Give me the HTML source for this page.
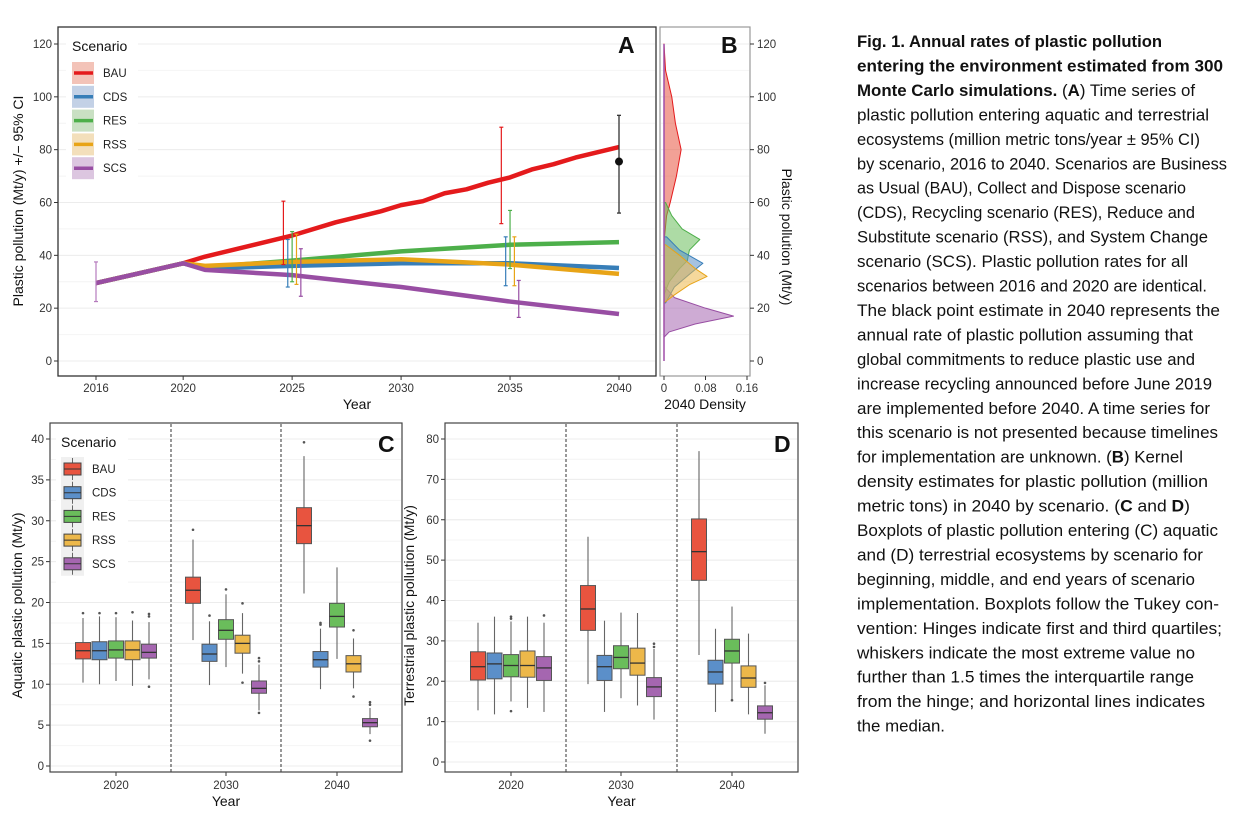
<!DOCTYPE html>
<html><head><meta charset="utf-8">
<style>
html,body{margin:0;padding:0;background:#fff;}
svg{display:block;font-family:"Liberation Sans",sans-serif;}
.tk{font-size:11.5px;fill:#333;}
.at{font-size:14px;fill:#111;}
.pl{font-family:"Liberation Sans Narrow","Liberation Sans",sans-serif;font-weight:bold;font-size:23px;fill:#111;}
.cap{font-family:"Liberation Sans Narrow","Liberation Sans",sans-serif;font-size:16.5px;fill:#111;}
</style></head>
<body>
<svg id="fig" width="1233" height="813" viewBox="0 0 1233 813" xmlns="http://www.w3.org/2000/svg">
<g id="gA"></g>
<g id="gB"></g>
<g id="gC"></g>
<g id="gD"></g>
<g id="cap"></g>
</svg>
<script>
const NS="http://www.w3.org/2000/svg";
const scenarios=["BAU","CDS","RES","RSS","SCS"];
const lineColors=["#e41a1c","#377eb8","#4daf4a","#e8a417","#984ea3"];
const paleColors=["#f3c3b8","#c3d1e6","#c9e0c3","#f3dfbb","#dcc6e0"];
const boxColors=["#e8543f","#5b8fc9","#6abd5b","#edb84a","#a566b0"];
// Panel A data
const yearsA=[2016,2020,2021,2025,2030,2035,2040];
const bauA=[29.5,37,39.5,47.5,59,69.5,81];
const bauYearsExtra=[2027,2029,2031,2032,2033,2034,2036,2037,2038,2039];
const bauExtra=[52.5,56.5,60.5,63.5,65,67.5,72.5,74.5,77,79];
const cdsA=[29.5,37,35,36,37,37,35.2];
const resA=[29.5,37,35.5,38,41.5,44,45];
const rssA=[29.5,37,36,37.5,38.5,36.5,33];
const scsA=[29.5,37,34.5,32.5,28,22.5,17.8];
const ci2025Lo=[36.5,28,30,29,24.5];
const ci2025Hi=[60.5,46,49,48,42.5];
const ci2035Lo=[52,28.5,35,28.5,16.5];
const ci2035Hi=[88.5,47,57,47,30.5];
const ci2016=[22.5,37.5];
const commit2040=[56,75.5,93];
const yTicksA=[0,20,40,60,80,100,120];
const xTicksA=[2016,2020,2025,2030,2035,2040];
// Panel B densities (order: BAU, CDS, RES, RSS, SCS)
const densY=[[45,55,60,70,80,90,100,110,120],[22,28,33,37,42,47],[25,30,35,38,42,46,50,55,60],[22,25,29,32,35,40,44],[9,11,14,17,20,24,28]];
const densV=[[0,0.005,0.012,0.024,0.033,0.022,0.015,0.003,0],[0.003,0.02,0.05,0.075,0.03,0.005],[0,0.01,0.03,0.045,0.049,0.069,0.035,0.015,0.003],[0,0.02,0.05,0.083,0.06,0.03,0.003],[0,0.01,0.06,0.134,0.08,0.02,0.002]];
const densTicks=[0,0.08,0.16];
// Panel C (aquatic) stats [q1,med,q3,lo,hi]
const yearsBox=["2020","2030","2040"];
const aqStats=[
 [[13.1,14.1,15.1,10.2,18.1],[13.0,14.1,15.2,10,18.3],[13.2,14.2,15.3,10.4,18.2],[13.0,14.2,15.3,9.8,17.8],[13.2,13.9,14.9,10.6,17.6]],
 [[19.9,21.5,23.1,15.4,27.7],[12.8,13.7,14.9,9.9,17.7],[15.5,16.6,17.9,12.1,21],[13.8,15,16,11.3,18.7],[8.9,9.5,10.4,6.8,12.4]],
 [[27.2,29.4,31.6,21.1,37.9],[12.1,13,14,9.4,16.8],[17,18.3,19.9,13.1,24.3],[11.5,12.5,13.5,9.5,15.6],[4.8,5.3,5.8,3.9,7.1]]];
const aqOut=[[[18.7],[18.7],[18.7],[18.8],[18.3,18.6,9.7]],[[28.9],[18.4],[21.6],[19.9,10.2],[12.8,13.2,6.5]],[[39.6],[17.3,17.5],[],[16.6,8.5],[7.5,7.8,3.1]]];
const terStats=[
 [[20.3,23.6,27.3,12.8,34.5],[20.6,24.3,27,11.8,36],[21.1,23.9,26.6,15,34.8],[21,23.9,27.5,13.4,36],[20.2,23.3,26.1,12.4,34.5]],
 [[32.6,37.9,43.7,19.3,55.8],[20.2,23.6,26.4,12.4,35],[23.1,25.9,28.8,15.8,37],[21.5,24.5,28.2,14,36.9],[16.2,18.6,20.9,10.5,28]],
 [[45,52.1,60.2,26.5,77],[19.3,22.3,25.2,12.4,33],[24.5,27.5,30.4,15.5,38.5],[18.5,20.8,23.8,11.8,31.8],[10.6,12.2,13.9,7,19]]];
const terOut=[[[],[],[36,35.5,12.6],[],[36.3]],[[],[],[],[],[28.5,29.3]],[[],[],[15.3],[],[19.6]]];
const yTicksC=[0,5,10,15,20,25,30,35,40];
const yTicksD=[0,10,20,30,40,50,60,70,80];

function el(parent,tag,attrs,text){const e=document.createElementNS(NS,tag);for(const k in attrs)e.setAttribute(k,attrs[k]);if(text!==undefined)e.textContent=text;parent.appendChild(e);return e;}

// ---------- Panel A ----------
const gA=document.getElementById('gA');
const ax=y=>96+(y-2016)*(619-96)/24;
const ay=v=>361-v*317/120;
for(let v=10;v<=120;v+=10){const ln=el(gA,'line',{x1:59,x2:655,y1:ay(v),y2:ay(v),stroke:v%20?'#f4f4f4':'#ececec','stroke-width':1});
}
el(gA,'line',{x1:59,x2:655,y1:ay(0),y2:ay(0),stroke:'#ececec'});
yTicksA.forEach(v=>{el(gA,'line',{x1:54,x2:58,y1:ay(v),y2:ay(v),stroke:'#333'});
 const t=el(gA,'text',{x:52,y:ay(v)+4,'text-anchor':'end',class:'tk'},v);
 });
xTicksA.forEach(v=>{el(gA,'line',{x1:ax(v),x2:ax(v),y1:376,y2:380,stroke:'#333'});
 const t=el(gA,'text',{x:ax(v),y:392,'text-anchor':'middle',class:'tk'},v);
 });
const bauPts=yearsA.map((y,i)=>[y,bauA[i]]).concat(bauYearsExtra.map((y,i)=>[y,bauExtra[i]])).sort((a,b)=>a[0]-b[0]);
const series=[bauPts,yearsA.map((y,i)=>[y,cdsA[i]]),yearsA.map((y,i)=>[y,resA[i]]),yearsA.map((y,i)=>[y,rssA[i]]),yearsA.map((y,i)=>[y,scsA[i]])];
const order=[0,2,1,3,4];
order.forEach(si=>{const p=el(gA,'polyline',{points:series[si].map(d=>ax(d[0])+','+ay(d[1])).join(' '),fill:'none',stroke:lineColors[si],'stroke-width':4.5,'stroke-linejoin':'round'});
 });
function ebar(x,lo,hi,c,w){const g=el(gA,'g',{stroke:c,'stroke-width':w||1.2});
 el(g,'line',{x1:x,x2:x,y1:ay(lo),y2:ay(hi)});el(g,'line',{x1:x-2,x2:x+2,y1:ay(lo),y2:ay(lo)});el(g,'line',{x1:x-2,x2:x+2,y1:ay(hi),y2:ay(hi)});return g;}
let g0=ebar(ax(2016),ci2016[0],ci2016[1],'#b57bbd');
scenarios.forEach((s,i)=>{const off=(i-2)*0.2;
 let g=ebar(ax(2025+off),ci2025Lo[i],ci2025Hi[i],lineColors[i]);
 g=ebar(ax(2035+off),ci2035Lo[i],ci2035Hi[i],lineColors[i]);});
let gc=ebar(ax(2040),commit2040[0],commit2040[2],'#333',1.3);
const cp=el(gA,'circle',{cx:ax(2040),cy:ay(commit2040[1]),r:4,fill:'#111'});
el(gA,'rect',{x:58,y:27,width:598,height:349,fill:'none',stroke:'#333','stroke-width':1.3});
el(gA,'rect',{x:66,y:32,width:72,height:152,fill:'#fff'});
const lt=el(gA,'text',{x:72,y:51,style:'font-size:14px;fill:#111'},'Scenario');
scenarios.forEach((s,i)=>{const y=73+i*23.8;const g=el(gA,'g',{});
 
 el(g,'rect',{x:72,y:y-11,width:22,height:22,fill:paleColors[i]});
 el(g,'line',{x1:74,x2:93,y1:y,y2:y,stroke:lineColors[i],'stroke-width':3.5});
 el(g,'text',{x:103,y:y+4,style:'font-size:11.5px;fill:#222'},s);});
const plA=el(gA,'text',{x:618,y:53,class:'pl'},'A');
let t=el(gA,'text',{x:357,y:409,'text-anchor':'middle',class:'at'},'Year');
t=el(gA,'text',{x:0,y:0,transform:'translate(23,201) rotate(-90)','text-anchor':'middle',class:'at'},'Plastic pollution (Mt/y) +/\u2212 95% CI');

// ---------- Panel B ----------
const gB=document.getElementById('gB');
const bx=d=>664+d*(747-664)/0.16;
for(let v=10;v<=120;v+=10){el(gB,'line',{x1:661,x2:749,y1:ay(v),y2:ay(v),stroke:v%20?'#f4f4f4':'#ececec'});}
[4,0,2,1,3].forEach(si=>{
 const ys=densY[si],vs=densV[si];
 let d='M'+bx(0)+','+ay(ys[0]);
 ys.forEach((y,k)=>{d+=' L'+bx(vs[k])+','+ay(y);});
 d+=' L'+bx(0)+','+ay(ys[ys.length-1])+' Z';
 const p=el(gB,'path',{d:d,fill:boxColors[si],'fill-opacity':0.55,stroke:lineColors[si],'stroke-width':1,'stroke-linejoin':'round'});
 });
el(gB,'line',{x1:bx(0),x2:bx(0),y1:ay(0),y2:ay(120),stroke:'#a04fa8','stroke-width':1.5});
el(gB,'rect',{x:660,y:27,width:90,height:349,fill:'none',stroke:'#999','stroke-width':1.2});
densTicks.forEach(v=>{el(gB,'line',{x1:bx(v),x2:bx(v),y1:376,y2:380,stroke:'#333'});
 const tt=el(gB,'text',{x:bx(v),y:392,'text-anchor':'middle',class:'tk'},v);});
yTicksA.forEach(v=>{el(gB,'line',{x1:750,x2:754,y1:ay(v),y2:ay(v),stroke:'#333'});
 const tt=el(gB,'text',{x:757,y:ay(v)+4,class:'tk'},v);});
t=el(gB,'text',{x:0,y:0,transform:'translate(782,237) rotate(90)','text-anchor':'middle',class:'at'},'Plastic pollution (Mt/y)');
t=el(gB,'text',{x:705,y:409,'text-anchor':'middle',class:'at'},'2040 Density');
t=el(gB,'text',{x:721,y:53,class:'pl'},'B');

// ---------- Box panels ----------
function boxPanel(g,L,R,yTop,yBot,vmax,ticks,stats,outs,centers,dashes,label,ytitle,yTitleX,minorStep,legend){
 const sy=v=>yBot-(v/vmax)*(yBot-yTop);
 for(let v=minorStep;v<=vmax+minorStep*0.6;v+=minorStep){el(g,'line',{x1:L+1,x2:R-1,y1:sy(v),y2:sy(v),stroke:'#f4f4f4'});}
 ticks.forEach(v=>{el(g,'line',{x1:L+1,x2:R-1,y1:sy(v),y2:sy(v),stroke:'#ececec'});
  el(g,'line',{x1:L-4,x2:L,y1:sy(v),y2:sy(v),stroke:'#333'});
  const tt=el(g,'text',{x:L-6,y:sy(v)+4,'text-anchor':'end',class:'tk'},v);});
 dashes.forEach(x=>el(g,'line',{x1:x,x2:x,y1:424,y2:772,stroke:'#333','stroke-dasharray':'3,2','stroke-width':1}));
 yearsBox.forEach((yr,gi)=>{const c=centers[gi];
  el(g,'line',{x1:c,x2:c,y1:772,y2:776,stroke:'#333'});
  const tt=el(g,'text',{x:c,y:789,'text-anchor':'middle',class:'tk'},yr);
  scenarios.forEach((s,si)=>{const st=stats[gi][si];const x=c+(si-2)*16.5;const bg=el(g,'g',{});
   
   el(bg,'line',{x1:x,x2:x,y1:sy(st[3]),y2:sy(st[4]),stroke:'#666','stroke-width':1.1});
   el(bg,'rect',{x:x-7.5,y:sy(st[2]),width:15,height:sy(st[0])-sy(st[2]),fill:boxColors[si],stroke:'#555','stroke-width':1});
   el(bg,'line',{x1:x-7.5,x2:x+7.5,y1:sy(st[1]),y2:sy(st[1]),stroke:'#333','stroke-width':1.3});
   outs[gi][si].forEach(o=>el(bg,'circle',{cx:x,cy:sy(o),r:1.3,fill:'#555'}));});});
 el(g,'rect',{x:L,y:yTop-16,width:R-L,height:772-yTop+16,fill:'none',stroke:'#444','stroke-width':1.2});
 const pl=el(g,'text',{x:R-24,y:yTop+13,class:'pl'},label);
 let tt=el(g,'text',{x:(L+R)/2,y:806,'text-anchor':'middle',class:'at'},'Year');
 tt=el(g,'text',{x:0,y:0,transform:'translate('+yTitleX+','+((yTop+772)/2)+') rotate(-90)','text-anchor':'middle',class:'at'},ytitle);
 if(legend){el(g,'rect',{x:56,y:428,width:72,height:160,fill:'#fff'});
  const lt=el(g,'text',{x:61,y:447,style:'font-size:14px;fill:#111'},'Scenario');
  scenarios.forEach((s,i)=>{const y=469+i*23.7;const lg=el(g,'g',{});
   
   el(lg,'rect',{x:61,y:y-12,width:23,height:24,fill:'#f0f0f0'});
   el(lg,'line',{x1:72.5,x2:72.5,y1:y-11,y2:y+11,stroke:'#666'});
   el(lg,'rect',{x:64,y:y-6,width:17,height:12,fill:boxColors[i],stroke:'#444'});
   el(lg,'line',{x1:64,x2:81,y1:y,y2:y,stroke:'#333'});
   el(lg,'text',{x:92,y:y+4,style:'font-size:11.5px;fill:#222'},s);});}
}
boxPanel(document.getElementById('gC'),50,402,439,766,40,yTicksC,aqStats,aqOut,[116,226,337],[171,281],'C','Aquatic plastic pollution (Mt/y)',22,2.5,true);
boxPanel(document.getElementById('gD'),445,798,439,762,80,yTicksD,terStats,terOut,[511,621,732],[566,677],'D','Terrestrial plastic pollution (Mt/y)',414,5,false);

// ---------- Caption ----------
const cap=document.getElementById('cap');
const lines=[
 [[["Fig. 1. Annual rates of plastic pollution",1]],1162],
 [[["entering the environment estimated from 300",1]],1223],
 [[["Monte Carlo simulations.",1],[" (",0],["A",1],[") Time series of",0]],1195],
 [[["plastic pollution entering aquatic and terrestrial",0]],1209],
 [[["ecosystems (million metric tons/year \u00b1 95% CI)",0]],1200],
 [[["by scenario, 2016 to 2040. Scenarios are Business",0]],1227],
 [[["as Usual (BAU), Collect and Dispose scenario",0]],1186],
 [[["(CDS), Recycling scenario (RES), Reduce and",0]],1195],
 [[["Substitute scenario (RSS), and System Change",0]],1208],
 [[["scenario (SCS). Plastic pollution rates for all",0]],1188],
 [[["scenarios between 2016 and 2020 are identical.",0]],1207],
 [[["The black point estimate in 2040 represents the",0]],1220],
 [[["annual rate of plastic pollution assuming that",0]],1193],
 [[["global commitments to reduce plastic use and",0]],1195],
 [[["increase recycling announced before June 2019",0]],1212],
 [[["are implemented before 2040. A time series for",0]],1210],
 [[["this scenario is not presented because timelines",0]],1218],
 [[["for implementation are unknown. (",0],["B",1],[") Kernel",0]],1183],
 [[["density estimates for plastic pollution (million",0]],1208],
 [[["metric tons) in 2040 by scenario. (",0],["C",1],[" and ",0],["D",1],[")",0]],1190],
 [[["Boxplots of plastic pollution entering (C) aquatic",0]],1218],
 [[["and (D) terrestrial ecosystems by scenario for",0]],1203],
 [[["beginning, middle, and end years of scenario",0]],1195],
 [[["implementation. Boxplots follow the Tukey con-",0]],1219],
 [[["vention: Hinges indicate first and third quartiles;",0]],1222],
 [[["whiskers indicate the most extreme value no",0]],1195],
 [[["further than 1.5 times the interquartile range",0]],1194],
 [[["from the hinge; and horizontal lines indicates",0]],1205],
 [[["the median.",0]],945]];
lines.forEach((ln,i)=>{const tx=el(cap,'text',{x:857,y:47+i*24.45,class:'cap',textLength:ln[1]-857,lengthAdjust:'spacingAndGlyphs'});
 
 ln[0].forEach(p=>{const ts=el(tx,'tspan',{},p[0]);if(p[1])ts.setAttribute('font-weight','bold');});});
</script>
</body></html>
